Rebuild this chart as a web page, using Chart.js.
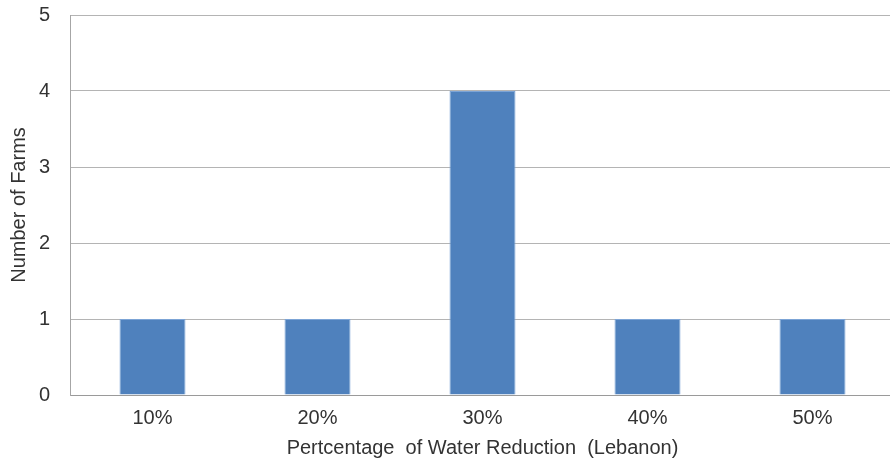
<!DOCTYPE html>
<html>
<head>
<meta charset="utf-8">
<script src="https://cdn.jsdelivr.net/npm/chart.js@4/dist/chart.umd.min.js"></script>
<style>
  html, body { margin: 0; padding: 0; background: #ffffff; overflow: hidden; }
  /* the plot runs a few pixels past the visible right edge */
  #wrap { width: 890px; height: 460px; overflow: hidden; }
</style>
</head>
<body>
<div id="wrap"><canvas id="chart" width="895" height="460"></canvas></div>
<script>
// Farms grouped by percentage of water reduction
const categories = ['10%', '20%', '30%', '40%', '50%'];
const farmCounts = [1, 1, 4, 1, 1];
const yTicks = [0, 1, 2, 3, 4, 5];

const FONT = "'Liberation Sans', Arial, sans-serif";
const TEXT = '#333333';

new Chart(document.getElementById('chart'), {
  type: 'bar',
  data: {
    labels: categories,
    datasets: [{
      label: 'Number of Farms',
      data: farmCounts,
      backgroundColor: '#4f81bd',
      borderColor: '#7ca4d6',
      borderWidth: 1,
      categoryPercentage: 1.0,
      barPercentage: 0.4
    }]
  },
  options: {
    responsive: false,
    animation: false,
    devicePixelRatio: 1,
    layout: { padding: { top: 15, right: 0, left: 0, bottom: 0 } },
    plugins: {
      legend: { display: false },
      tooltip: { enabled: false }
    },
    scales: {
      x: {
        grid: { display: false, drawTicks: false },
        border: { display: true, color: '#9a9a9a', width: 1 },
        ticks: { color: TEXT, font: { family: FONT, size: 20 }, padding: 11 },
        title: {
          display: true,
          text: 'Pertcentage  of Water Reduction  (Lebanon)',
          color: TEXT,
          font: { family: FONT, size: 20 },
          padding: { top: 0, bottom: 0 }
        },
        afterFit: (s) => { s.height = 65; }
      },
      y: {
        min: 0,
        max: 5,
        afterBuildTicks: (s) => { s.ticks = yTicks.map(v => ({ value: v })); },
        grid: {
          color: '#b4b4b4',
          lineWidth: 1,
          drawTicks: true,
          tickLength: 17,
          tickColor: 'rgba(0,0,0,0)'
        },
        border: { display: true, color: '#a6a6a6', width: 1 },
        ticks: { color: TEXT, font: { family: FONT, size: 20 }, padding: 3 },
        title: {
          display: true,
          text: 'Number of Farms',
          color: TEXT,
          font: { family: FONT, size: 20 },
          padding: { top: 7, bottom: 0 }
        },
        afterFit: (s) => { s.width = 70; }
      }
    }
  }
});
</script>
</body>
</html>
